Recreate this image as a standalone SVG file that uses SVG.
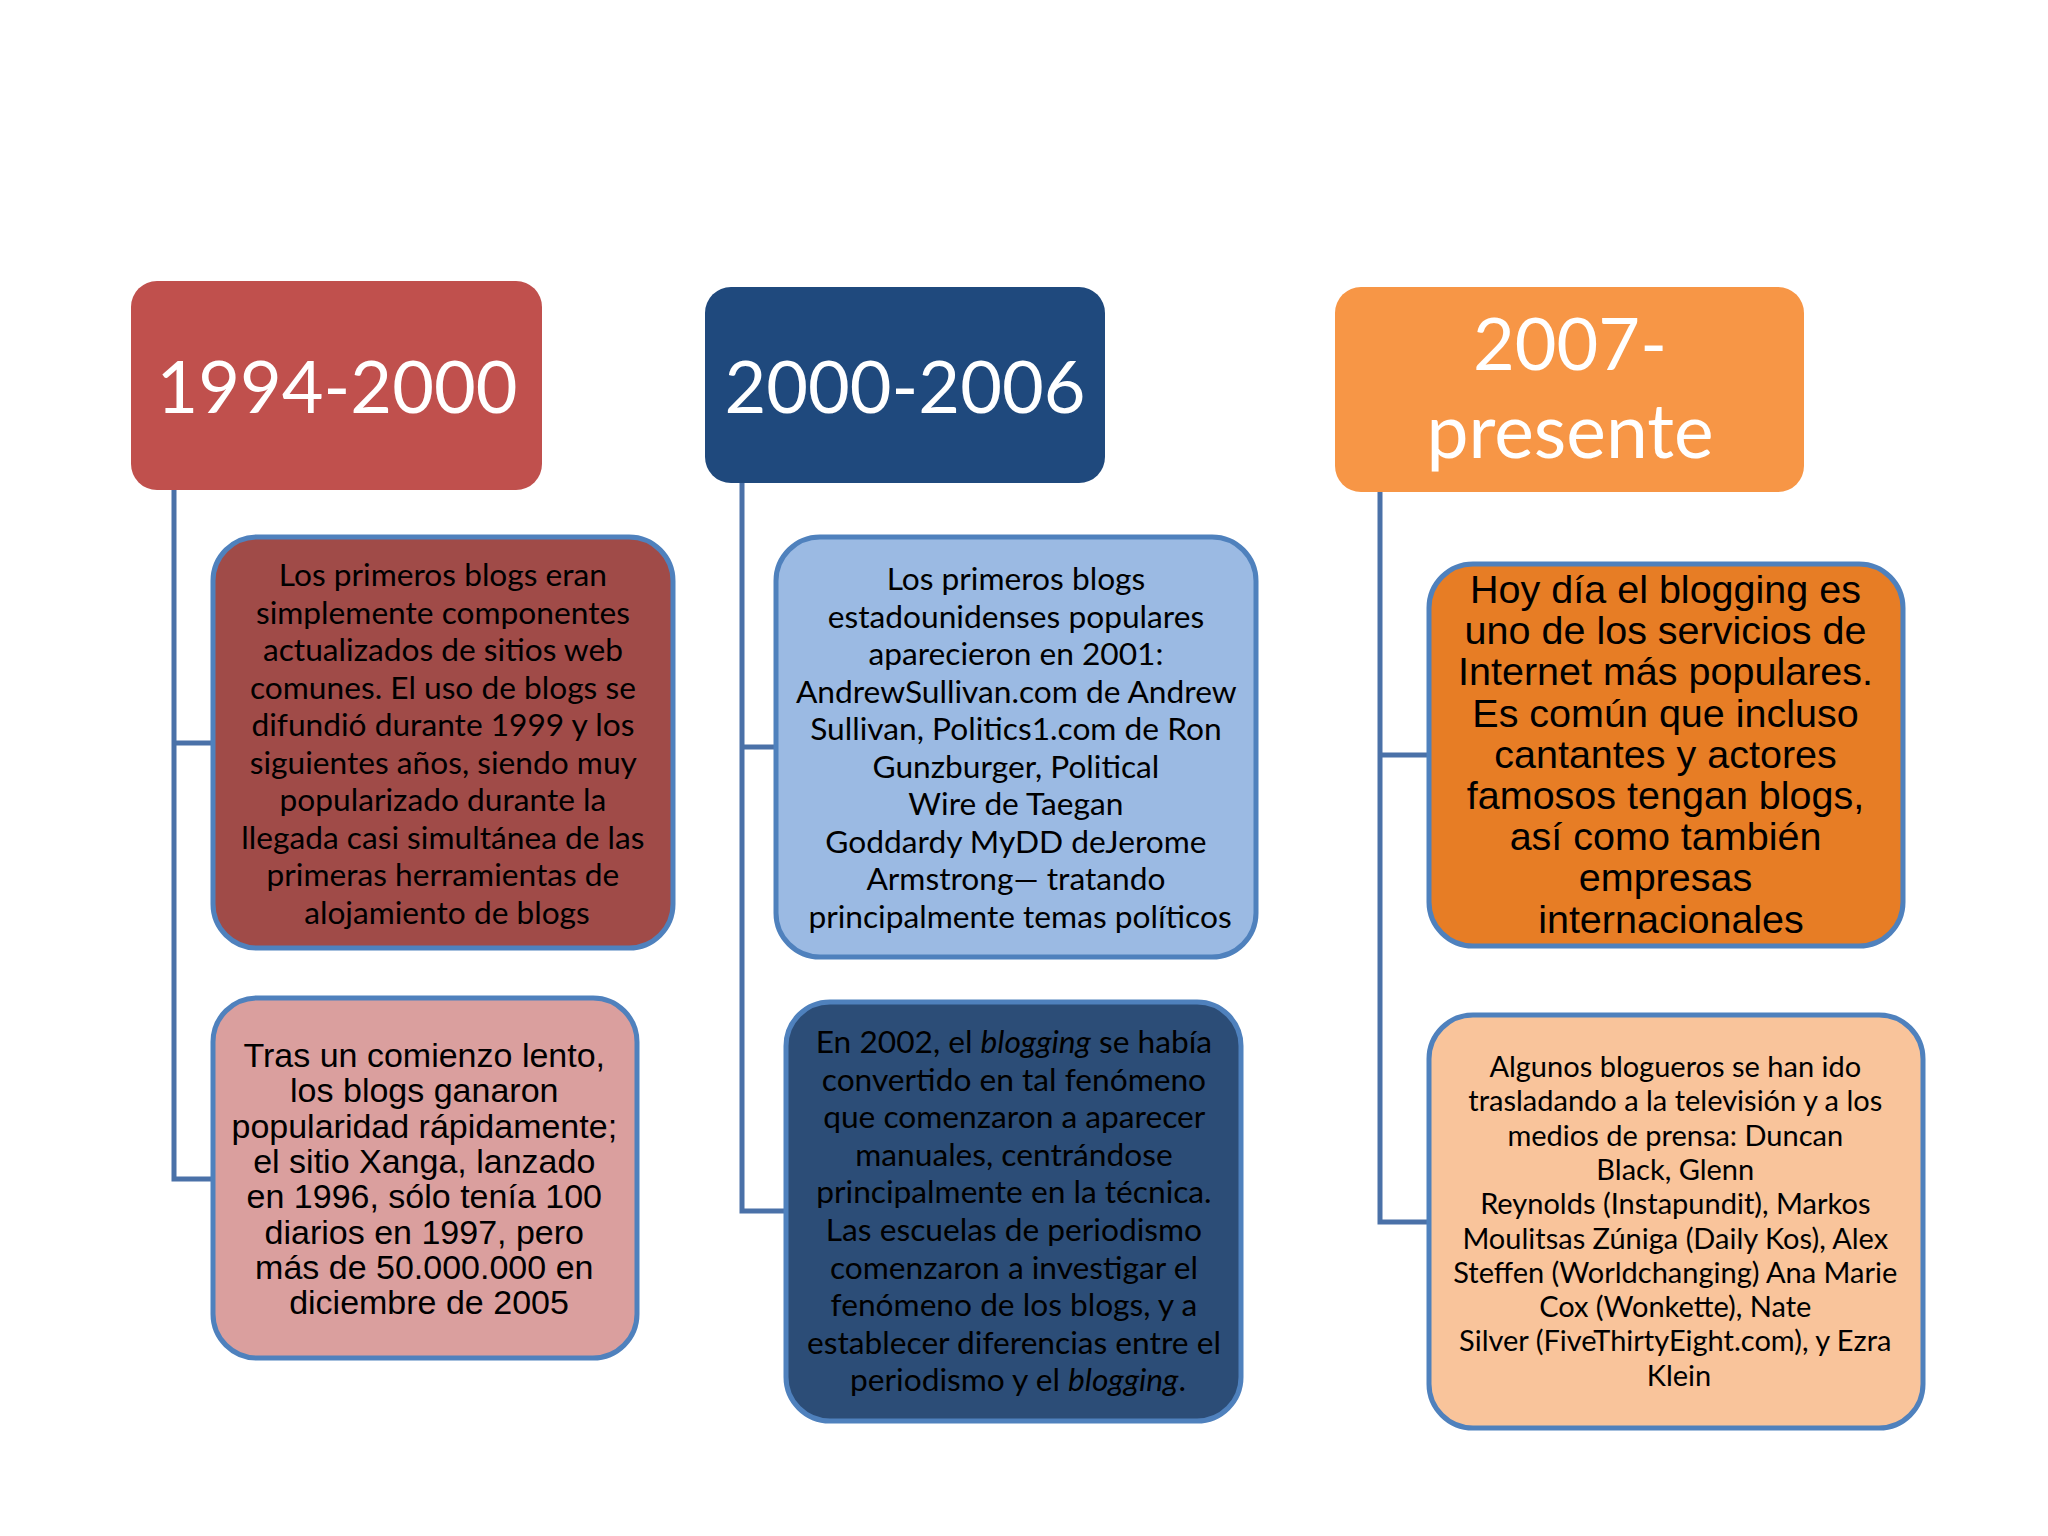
<svg xmlns="http://www.w3.org/2000/svg" width="2048" height="1536" viewBox="0 0 2048 1536">
<style>
.hdr{font-family:Lato,"Open Sans",sans-serif;fill:#fff;text-anchor:middle;font-size:72px}
.box{stroke:#4F81BD;stroke-width:5}
.cal{font-family:Lato,"Open Sans",sans-serif;fill:#000;text-anchor:middle;font-size:31.7px}
.ari{font-family:"Liberation Sans",Arial,sans-serif;fill:#000;text-anchor:middle}
.con{fill:none;stroke:#4A71A8;stroke-width:5}
</style>
<rect width="2048" height="1536" fill="#fff"/>
<g id="connectors">
<path class="con" d="M174,490 V1179 H213 M174,743 H213"/>
<path class="con" d="M742,483 V1211 H786 M742,747 H776"/>
<path class="con" d="M1380,492 V1222 H1429 M1380,755 H1429"/>
</g>
<g id="h1"><rect x="131" y="281" width="411" height="209" rx="26" fill="#C0504D"/>
<text class="hdr" x="337" y="413">1994-2000</text></g>
<g id="h2"><rect x="705" y="287" width="400" height="196" rx="26" fill="#1F497D"/>
<text class="hdr" x="905" y="413">2000-2006</text></g>
<g id="h3"><rect x="1335" y="287" width="469" height="205" rx="26" fill="#F79646"/>
<text class="hdr" x="1570" y="370">2007-</text><text class="hdr" x="1570" y="458" style="font-size:75px">presente</text></g>
<g id="b11"><rect class="box" x="213" y="537" width="460" height="411" rx="44" fill="#A04B48"/>
<text class="cal">
<tspan x="447" y="586">Los primeros blogs eran</tspan>
<tspan x="447" y="623.5">simplemente componentes</tspan>
<tspan x="447" y="661">actualizados de sitios web</tspan>
<tspan x="447" y="698.5">comunes. El uso de blogs se</tspan>
<tspan x="447" y="736">difundió durante 1999 y los</tspan>
<tspan x="447" y="773.5">siguientes años, siendo muy</tspan>
<tspan x="447" y="811">popularizado durante la</tspan>
<tspan x="447" y="848.5">llegada casi simultánea de las</tspan>
<tspan x="447" y="886">primeras herramientas de</tspan>
<tspan x="447" y="923.5">alojamiento de blogs</tspan>
</text></g>
<g id="b12"><rect class="box" x="213" y="998" width="424" height="360" rx="44" fill="#DA9F9E"/>
<text class="ari" font-size="34">
<tspan x="429" y="1067">Tras un comienzo lento,</tspan>
<tspan x="429" y="1102.3">los blogs ganaron</tspan>
<tspan x="429" y="1137.6">popularidad rápidamente;</tspan>
<tspan x="429" y="1172.9">el sitio Xanga, lanzado</tspan>
<tspan x="429" y="1208.2">en 1996, sólo tenía 100</tspan>
<tspan x="429" y="1243.5">diarios en 1997, pero</tspan>
<tspan x="429" y="1278.8">más de 50.000.000 en</tspan>
<tspan x="429" y="1314.1">diciembre de 2005</tspan>
</text></g>
<g id="b21"><rect class="box" x="776" y="537" width="480" height="420" rx="44" fill="#9BBAE3"/>
<text class="cal">
<tspan x="1020" y="590">Los primeros blogs</tspan>
<tspan x="1020" y="627.5">estadounidenses populares</tspan>
<tspan x="1020" y="665">aparecieron en 2001:</tspan>
<tspan x="1020" y="702.5">AndrewSullivan.com de Andrew</tspan>
<tspan x="1020" y="740">Sullivan, Politics1.com de Ron</tspan>
<tspan x="1020" y="777.5">Gunzburger, Political</tspan>
<tspan x="1020" y="815">Wire de Taegan</tspan>
<tspan x="1020" y="852.5">Goddardy MyDD deJerome</tspan>
<tspan x="1020" y="890">Armstrong— tratando</tspan>
<tspan x="1020" y="927.5">principalmente temas políticos</tspan>
</text></g>
<g id="b22"><rect class="box" x="786" y="1002" width="455" height="419" rx="44" fill="#2C4D77"/>
<text class="cal">
<tspan x="1018" y="1053">En 2002, el <tspan font-style="italic">blogging</tspan> se había</tspan>
<tspan x="1018" y="1090.6">convertido en tal fenómeno</tspan>
<tspan x="1018" y="1128.2">que comenzaron a aparecer</tspan>
<tspan x="1018" y="1165.8">manuales, centrándose</tspan>
<tspan x="1018" y="1203.4">principalmente en la técnica.</tspan>
<tspan x="1018" y="1241">Las escuelas de periodismo</tspan>
<tspan x="1018" y="1278.6">comenzaron a investigar el</tspan>
<tspan x="1018" y="1316.2">fenómeno de los blogs, y a</tspan>
<tspan x="1018" y="1353.8">establecer diferencias entre el</tspan>
<tspan x="1018" y="1391.4">periodismo y el <tspan font-style="italic">blogging</tspan>.</tspan>
</text></g>
<g id="b31"><rect class="box" x="1429" y="564" width="474" height="382" rx="44" fill="#E77D25"/>
<text class="ari" font-size="39.5">
<tspan x="1671" y="603">Hoy día el blogging es</tspan>
<tspan x="1671" y="644.2">uno de los servicios de</tspan>
<tspan x="1671" y="685.4">Internet más populares.</tspan>
<tspan x="1671" y="726.6">Es común que incluso</tspan>
<tspan x="1671" y="767.8">cantantes y actores</tspan>
<tspan x="1671" y="809">famosos tengan blogs,</tspan>
<tspan x="1671" y="850.2">así como también</tspan>
<tspan x="1671" y="891.4">empresas</tspan>
<tspan x="1671" y="932.6">internacionales</tspan>
</text></g>
<g id="b32"><rect class="box" x="1429" y="1015" width="494" height="413" rx="44" fill="#F9C49B"/>
<text class="cal" style="font-size:29px">
<tspan x="1679" y="1077">Algunos blogueros se han ido</tspan>
<tspan x="1679" y="1111.3">trasladando a la televisión y a los</tspan>
<tspan x="1679" y="1145.6">medios de prensa: Duncan</tspan>
<tspan x="1679" y="1179.9">Black, Glenn</tspan>
<tspan x="1679" y="1214.2">Reynolds (Instapundit), Markos</tspan>
<tspan x="1679" y="1248.5">Moulitsas Zúniga (Daily Kos), Alex</tspan>
<tspan x="1679" y="1282.8">Steffen (Worldchanging) Ana Marie</tspan>
<tspan x="1679" y="1317.1">Cox (Wonkette), Nate</tspan>
<tspan x="1679" y="1351.4">Silver (FiveThirtyEight.com), y Ezra</tspan>
<tspan x="1679" y="1385.7">Klein</tspan>
</text></g>
</svg>
